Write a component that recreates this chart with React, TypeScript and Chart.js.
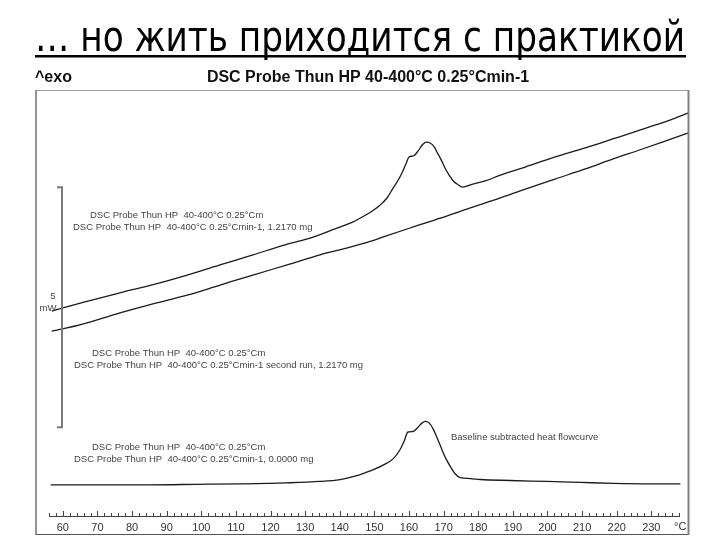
import { useEffect, useRef } from "react";
import { Chart, registerables } from "chart.js";

Chart.register(...registerables);

// ---------- texts ----------
const PAGE_TITLE = "… но жить приходится с практикой";
const HEADER_LEFT = "^exo";
const HEADER_TITLE = "DSC Probe Thun HP 40-400°C 0.25°Cmin-1";
const GROUP_LINE1 = "DSC Probe Thun HP  40-400°C 0.25°Cm";
const RUN1_LINE2 = "DSC Probe Thun HP  40-400°C 0.25°Cmin-1, 1.2170 mg";
const RUN2_LINE2 = "DSC Probe Thun HP  40-400°C 0.25°Cmin-1 second run, 1.2170 mg";
const BASE_LINE2 = "DSC Probe Thun HP  40-400°C 0.25°Cmin-1, 0.0000 mg";
const BASE_NOTE = "Baseline subtracted heat flowcurve";
const X_UNIT = "°C";
const SCALE_BAR_LABELS = ["5", "mW"];

// ---------- axes ----------
const X_MIN = 56;
const X_MAX = 238;
const X_STEP = 2;
const X_LABEL_EVERY = 10;
const Y_MIN = 0;
const Y_MAX = 8.875;

// scale bar (mW)
const SCALE_BAR_T = 59.7;
const SCALE_BAR_LOW = 1.85;
const SCALE_BAR_MW = 5;

// ---------- series: first run (°C, mW) ----------
const run1T = [56.8, 66.4, 76.5, 86.6, 95.9, 105.4, 114.9, 124.2, 132.3, 138.6, 143.0, 146.5, 149.3, 151.7, 153.7, 155.4, 156.9, 158.0, 159.2, 160.0, 161.2, 162.6, 163.8, 165.0, 166.1, 167.3, 168.1, 169.3, 170.4, 171.6, 172.8, 174.2, 175.4, 177.7, 182.0, 186.4, 193.6, 201.4, 210.9, 215.3, 220.8, 229.7, 236.9, 240.7];
const run1Y = [4.27, 4.46, 4.65, 4.83, 5.02, 5.23, 5.44, 5.65, 5.81, 5.98, 6.10, 6.23, 6.35, 6.48, 6.63, 6.83, 7.00, 7.15, 7.35, 7.48, 7.50, 7.60, 7.73, 7.79, 7.77, 7.69, 7.58, 7.42, 7.25, 7.10, 6.98, 6.90, 6.85, 6.90, 6.98, 7.10, 7.27, 7.46, 7.67, 7.77, 7.90, 8.11, 8.29, 8.40];

// ---------- series: second run ----------
const run2T = [56.8, 64.9, 76.5, 86.0, 95.9, 105.4, 114.9, 124.8, 134.3, 143.0, 148.8, 152.8, 160.3, 169.3, 177.7, 185.8, 193.6, 202.2, 210.9, 219.0, 226.8, 234.0, 240.7];
const run2Y = [3.85, 3.98, 4.23, 4.42, 4.60, 4.81, 5.02, 5.23, 5.44, 5.60, 5.72, 5.82, 6.00, 6.21, 6.42, 6.61, 6.81, 7.02, 7.23, 7.44, 7.63, 7.81, 7.98];

// ---------- series: baseline subtracted ----------
const baseT = [56.5, 70.7, 85.2, 98.7, 111.2, 124.5, 134.3, 140.1, 144.4, 147.3, 150.2, 152.5, 155.4, 157.4, 158.6, 159.7, 161.2, 162.6, 163.8, 164.7, 165.8, 167.0, 168.1, 169.3, 170.7, 172.2, 173.3, 174.8, 177.7, 180.6, 189.2, 199.9, 209.5, 219.0, 229.7, 238.4];
const baseY = [0.65, 0.65, 0.65, 0.66, 0.67, 0.69, 0.72, 0.76, 0.83, 0.90, 0.98, 1.06, 1.19, 1.38, 1.56, 1.75, 1.76, 1.85, 1.94, 1.97, 1.94, 1.81, 1.63, 1.42, 1.19, 1.00, 0.88, 0.80, 0.78, 0.76, 0.74, 0.72, 0.70, 0.68, 0.67, 0.67];

const SANS = "'Liberation Sans', Arial, sans-serif";
const TITLE_FONT = "'Liberation Sans Narrow', 'DejaVu Sans Condensed', 'Liberation Sans', sans-serif";

const toPoints = (xs: number[], ys: number[]) => xs.map((x, i) => ({ x, y: ys[i] }));

const decor = {
  id: "dscDecor",
  beforeDraw(chart: any) {
    const ctx = chart.ctx;
    ctx.save();
    ctx.fillStyle = "#ffffff";
    ctx.fillRect(0, 0, chart.width, chart.height);
    ctx.restore();
  },
  afterDraw(chart: any) {
    const ctx = chart.ctx as CanvasRenderingContext2D;
    const xs = chart.scales.x;
    const ys = chart.scales.y;
    const area = chart.chartArea;
    ctx.save();

    // page title, fitted to width and underlined
    ctx.fillStyle = "#000";
    ctx.font = `42px ${TITLE_FONT}`;
    ctx.textBaseline = "alphabetic";
    ctx.textAlign = "left";
    const tw = ctx.measureText(PAGE_TITLE).width;
    const sx = 650 / tw;
    ctx.save();
    ctx.translate(35, 51);
    ctx.scale(sx, 1);
    ctx.fillText(PAGE_TITLE, 0, 0);
    ctx.restore();
    ctx.fillRect(35, 55, 651, 2.5);

    // header
    ctx.font = `bold 16px ${SANS}`;
    ctx.textBaseline = "middle";
    ctx.fillStyle = "#111";
    ctx.fillText(HEADER_LEFT, 35, 78);
    ctx.textAlign = "center";
    ctx.fillText(HEADER_TITLE, 368, 78);

    // frame
    ctx.lineWidth = 1;
    ctx.strokeStyle = "#a0a0a0";
    ctx.beginPath(); ctx.moveTo(36, 90.5); ctx.lineTo(688, 90.5); ctx.stroke();
    ctx.strokeStyle = "#555";
    ctx.beginPath(); ctx.moveTo(36, 534.5); ctx.lineTo(689, 534.5); ctx.stroke();
    ctx.lineWidth = 1.5;
    ctx.strokeStyle = "#707070";
    ctx.beginPath(); ctx.moveTo(36, 90); ctx.lineTo(36, 535); ctx.stroke();
    ctx.lineWidth = 2;
    ctx.strokeStyle = "#808080";
    ctx.beginPath(); ctx.moveTo(688.5, 90); ctx.lineTo(688.5, 535); ctx.stroke();

    // upward tick marks on x axis
    ctx.strokeStyle = "#444";
    ctx.lineWidth = 1;
    const yb = area.bottom;
    xs.ticks.forEach((t: any) => {
      const px = Math.round(xs.getPixelForValue(t.value)) + 0.5;
      const len = t.value % X_LABEL_EVERY === 0 ? 5 : 3;
      ctx.beginPath();
      ctx.moveTo(px, yb);
      ctx.lineTo(px, yb - len);
      ctx.stroke();
    });

    // unit label
    ctx.font = `11px ${SANS}`;
    ctx.fillStyle = "#333";
    ctx.textAlign = "left";
    ctx.textBaseline = "middle";
    ctx.fillText(X_UNIT, 674, 527);

    // scale bar
    const bx = Math.round(xs.getPixelForValue(SCALE_BAR_T));
    const by1 = ys.getPixelForValue(SCALE_BAR_LOW + SCALE_BAR_MW);
    const by2 = ys.getPixelForValue(SCALE_BAR_LOW);
    ctx.strokeStyle = "#7a7a7a";
    ctx.lineWidth = 2;
    ctx.beginPath();
    ctx.moveTo(bx - 5, by1);
    ctx.lineTo(bx, by1);
    ctx.lineTo(bx, by2);
    ctx.lineTo(bx - 5, by2);
    ctx.stroke();
    const bmid = (by1 + by2) / 2;
    ctx.font = `9.5px ${SANS}`;
    ctx.fillStyle = "#444";
    ctx.textAlign = "center";
    ctx.fillText(SCALE_BAR_LABELS[0], bx - 9, bmid - 11);
    ctx.fillText(SCALE_BAR_LABELS[1], bx - 14, bmid + 1);

    // annotations
    ctx.textAlign = "left";
    const notes: [string, number, number][] = [
      [GROUP_LINE1, 90, 215],
      [RUN1_LINE2, 73, 227],
      [GROUP_LINE1, 92, 353],
      [RUN2_LINE2, 74, 365],
      [GROUP_LINE1, 92, 447],
      [BASE_LINE2, 74, 459],
      [BASE_NOTE, 451, 437],
    ];
    notes.forEach(([txt, x, y]) => ctx.fillText(txt, x, y));

    ctx.restore();
  },
};

export default function App() {
  const ref = useRef<HTMLCanvasElement | null>(null);

  useEffect(() => {
    if (!ref.current) return;
    const line = (xs: number[], ys: number[]) => ({
      data: toPoints(xs, ys),
      borderColor: "#1a1a1a",
      borderWidth: 1.3,
      pointRadius: 0,
      fill: false,
      clip: false as any,
      cubicInterpolationMode: "monotone" as const,
    });
    const chart = new Chart(ref.current, {
      type: "line",
      data: {
        datasets: [line(run1T, run1Y), line(run2T, run2Y), line(baseT, baseY)],
      },
      options: {
        responsive: false,
        animation: false,
        layout: { padding: { left: 49, right: 41, top: 90, bottom: 0 } },
        plugins: {
          legend: { display: false },
          tooltip: { enabled: false },
          title: { display: false },
        },
        scales: {
          x: {
            type: "linear",
            min: X_MIN,
            max: X_MAX,
            afterFit: (s: any) => {
              s.height = 24;
            },
            border: { display: true, color: "#444", width: 1 },
            grid: { display: true, drawOnChartArea: false, drawTicks: false },
            ticks: {
              stepSize: X_STEP,
              autoSkip: false,
              maxRotation: 0,
              minRotation: 0,
              padding: 5,
              color: "#333",
              font: { family: SANS, size: 11 },
              callback: (v: any) => (Number(v) % X_LABEL_EVERY === 0 ? String(v) : ""),
            },
          },
          y: { type: "linear", min: Y_MIN, max: Y_MAX, display: false },
        },
      } as any,
      plugins: [decor],
    });
    return () => chart.destroy();
  }, []);

  return (
    <div style={{ position: "fixed", left: 0, top: 0, width: 720, height: 540, background: "#fff" }}>
      <canvas ref={ref} width={720} height={540} style={{ display: "block" }} />
    </div>
  );
}
